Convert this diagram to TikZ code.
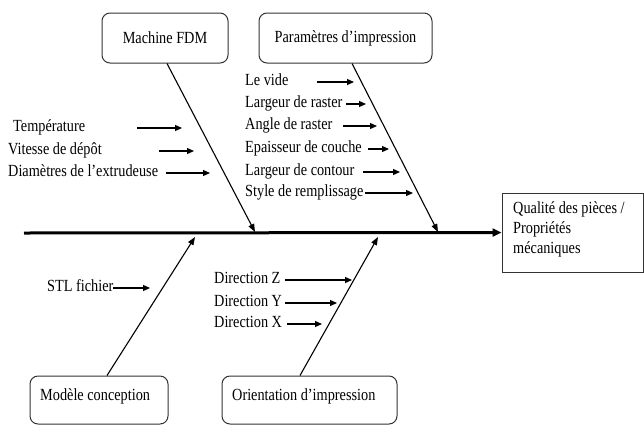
\documentclass[tikz,border=0pt]{standalone}
\usepackage{fontspec}
\setmainfont{Liberation Serif}
\usepackage{graphicx}
\usetikzlibrary{arrows.meta}
\newcommand{\nt}[1]{\scalebox{0.84}[1]{#1}}
\begin{document}
\begin{tikzpicture}[x=1pt,y=-1pt,
  txt/.style={font=\fontsize{17}{20}\selectfont},
  lbl/.style={txt, anchor=mid west, inner sep=0pt},
  catbox/.style={txt, draw=black!80, line width=1pt, rounded corners=8pt, minimum height=50pt, inner sep=0pt},
  bone/.style={line width=1.1pt, -{Triangle[length=8pt,width=6pt]}},
  sub/.style={line width=1.2pt, -{Triangle[length=7pt,width=6pt]}},
  spine/.style={line width=3pt, -{Triangle[length=9pt,width=8pt]}}]
\useasboundingbox (0,0) rectangle (644,426);

% category boxes
\node[catbox, minimum width=126pt] (mfdm) at (165,38) {\nt{Machine FDM}};
\node[catbox, minimum width=173pt] (par) at (345.5,38) {\nt{Paramètres d’impression}};
\node[catbox, minimum width=138pt, minimum height=48pt] (mc) at (99,400) {};
\node[lbl] (mct) at (40,398.5) {\nt{Modèle conception}};
\node[catbox, minimum width=175pt, minimum height=48pt] (ori) at (309.5,400) {};
\node[lbl] (orit) at (232,398.5) {\nt{Orientation d’impression}};

% effect box
\node[draw=black!80, line width=1pt, minimum width=141pt, minimum height=79pt, inner sep=0pt] (q) at (572.5,232.5) {};
\node[lbl] (q1) at (513,211.5) {\nt{Qualité des pièces /}};
\node[lbl] (q2) at (513,231.5) {\nt{Propriétés}};
\node[lbl] (q3) at (513,251.5) {\nt{mécaniques}};

% spine
\coordinate (tail) at (24,233);
\draw[spine] (tail) -- (q.west);

% bones
\coordinate (b1) at (255,232);
\coordinate (b2) at (438,232);
\coordinate (b3) at (195,237);
\coordinate (b4) at (378,237);
\draw[bone] ([xshift=2pt]mfdm.south) -- (b1);
\draw[bone] ([xshift=6.5pt]par.south) -- (b2);
\draw[bone] ([xshift=8pt]mc.north) -- (b3);
\draw[bone] ([xshift=-9.5pt]ori.north) -- (b4);

% Machine FDM causes
\node[lbl] (t1) at (13,129.5) {\nt{Température}};
\node[lbl] (t2) at (8,152.5) {\nt{Vitesse de dépôt}};
\node[lbl] (t3) at (8,174.5) {\nt{Diamètres de l’extrudeuse}};
\coordinate (t1s) at (137,128); \coordinate (t1e) at (182,128);
\coordinate (t2s) at (159,151); \coordinate (t2e) at (194,151);
\coordinate (t3s) at (166,173); \coordinate (t3e) at (210,173);
\draw[sub] (t1s) -- (t1e);
\draw[sub] (t2s) -- (t2e);
\draw[sub] (t3s) -- (t3e);

% Paramètres causes
\node[lbl] (p1) at (245,83.5) {\nt{Le vide}};
\node[lbl] (p2) at (245,105.5) {\nt{Largeur de raster}};
\node[lbl] (p3) at (245,127.5) {\nt{Angle de raster}};
\node[lbl] (p4) at (245,150.5) {\nt{Epaisseur de couche}};
\node[lbl] (p5) at (245,173.5) {\nt{Largeur de contour}};
\node[lbl] (p6) at (245,194.5) {\nt{Style de remplissage}};
\coordinate (p1s) at (317,82);  \coordinate (p1e) at (354,82);
\coordinate (p2s) at (346,104); \coordinate (p2e) at (366,104);
\coordinate (p3s) at (343,126); \coordinate (p3e) at (377,126);
\coordinate (p4s) at (368,149); \coordinate (p4e) at (389,149);
\coordinate (p5s) at (363,172); \coordinate (p5e) at (400,172);
\coordinate (p6s) at (365,193); \coordinate (p6e) at (413,193);
\draw[sub] (p1s) -- (p1e);
\draw[sub] (p2s) -- (p2e);
\draw[sub] (p3s) -- (p3e);
\draw[sub] (p4s) -- (p4e);
\draw[sub] (p5s) -- (p5e);
\draw[sub] (p6s) -- (p6e);

% Modèle conception cause
\node[lbl] (s1) at (47,289.5) {\nt{STL fichier}};
\coordinate (s1s) at (113,288); \coordinate (s1e) at (150,288);
\draw[sub] (s1s) -- (s1e);

% Orientation causes
\node[lbl] (d1) at (214,281.5) {\nt{Direction Z}};
\node[lbl] (d2) at (214,304.5) {\nt{Direction Y}};
\node[lbl] (d3) at (214,325.5) {\nt{Direction X}};
\coordinate (d1s) at (285,280); \coordinate (d1e) at (352,280);
\coordinate (d2s) at (285,303); \coordinate (d2e) at (337,303);
\coordinate (d3s) at (287,324); \coordinate (d3e) at (322,324);
\draw[sub] (d1s) -- (d1e);
\draw[sub] (d2s) -- (d2e);
\draw[sub] (d3s) -- (d3e);
\end{tikzpicture}
\end{document}
